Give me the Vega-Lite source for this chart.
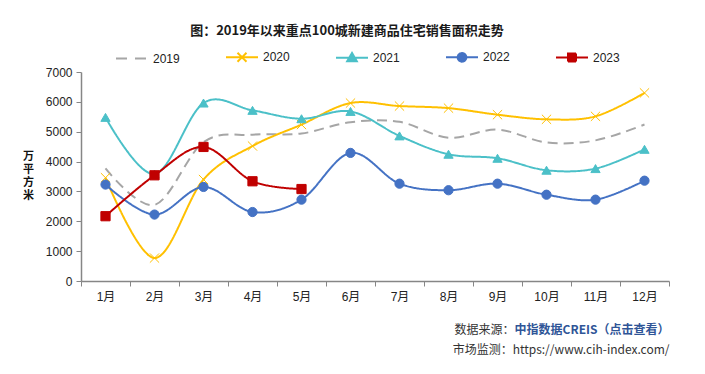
{
  "$schema": "https://vega.github.io/schema/vega-lite/v6.json",
  "autosize": "none",
  "width": 588,
  "height": 209,
  "padding": {"left": 81, "top": 72, "right": 36, "bottom": 93},
  "background": "white",
  "title": {
    "text": "图：2019年以来重点100城新建商品住宅销售面积走势",
    "font": "Noto Sans CJK SC",
    "fontSize": 13,
    "fontWeight": "bold",
    "color": "#1a1a1a",
    "anchor": "middle",
    "dx": -28,
    "offset": 2
  },
  "config": {
    "view": {"stroke": null},
    "axis": {"labelFont": "Liberation Sans, Noto Sans CJK SC", "titleFont": "Noto Sans CJK SC"}
  },
  "resolve": {"axis": {"x": "independent"}},
  "data": {
    "values": [
      {"month": "1月", "year": "2019", "value": 3770},
      {"month": "2月", "year": "2019", "value": 2550},
      {"month": "3月", "year": "2019", "value": 4650},
      {"month": "4月", "year": "2019", "value": 4900},
      {"month": "5月", "year": "2019", "value": 4940},
      {"month": "6月", "year": "2019", "value": 5320},
      {"month": "7月", "year": "2019", "value": 5330},
      {"month": "8月", "year": "2019", "value": 4800},
      {"month": "9月", "year": "2019", "value": 5070},
      {"month": "10月", "year": "2019", "value": 4640},
      {"month": "11月", "year": "2019", "value": 4710},
      {"month": "12月", "year": "2019", "value": 5240},
      {"month": "1月", "year": "2020", "value": 3460},
      {"month": "2月", "year": "2020", "value": 770},
      {"month": "3月", "year": "2020", "value": 3400},
      {"month": "4月", "year": "2020", "value": 4520},
      {"month": "5月", "year": "2020", "value": 5240},
      {"month": "6月", "year": "2020", "value": 5960},
      {"month": "7月", "year": "2020", "value": 5860},
      {"month": "8月", "year": "2020", "value": 5790},
      {"month": "9月", "year": "2020", "value": 5570},
      {"month": "10月", "year": "2020", "value": 5415},
      {"month": "11月", "year": "2020", "value": 5515},
      {"month": "12月", "year": "2020", "value": 6300},
      {"month": "1月", "year": "2021", "value": 5480},
      {"month": "2月", "year": "2021", "value": 3580},
      {"month": "3月", "year": "2021", "value": 5960},
      {"month": "4月", "year": "2021", "value": 5715},
      {"month": "5月", "year": "2021", "value": 5435},
      {"month": "6月", "year": "2021", "value": 5680},
      {"month": "7月", "year": "2021", "value": 4860},
      {"month": "8月", "year": "2021", "value": 4245},
      {"month": "9月", "year": "2021", "value": 4110},
      {"month": "10月", "year": "2021", "value": 3710},
      {"month": "11月", "year": "2021", "value": 3765},
      {"month": "12月", "year": "2021", "value": 4410},
      {"month": "1月", "year": "2022", "value": 3230},
      {"month": "2月", "year": "2022", "value": 2225},
      {"month": "3月", "year": "2022", "value": 3150},
      {"month": "4月", "year": "2022", "value": 2310},
      {"month": "5月", "year": "2022", "value": 2725},
      {"month": "6月", "year": "2022", "value": 4290},
      {"month": "7月", "year": "2022", "value": 3260},
      {"month": "8月", "year": "2022", "value": 3040},
      {"month": "9月", "year": "2022", "value": 3260},
      {"month": "10月", "year": "2022", "value": 2890},
      {"month": "11月", "year": "2022", "value": 2725},
      {"month": "12月", "year": "2022", "value": 3360},
      {"month": "1月", "year": "2023", "value": 2170},
      {"month": "2月", "year": "2023", "value": 3540},
      {"month": "3月", "year": "2023", "value": 4490},
      {"month": "4月", "year": "2023", "value": 3340},
      {"month": "5月", "year": "2023", "value": 3080}
    ]
  },
  "encoding": {
    "y": {
      "field": "value",
      "type": "quantitative",
      "scale": {"domain": [0, 7000], "nice": false},
      "axis": {
        "values": [0, 1000, 2000, 3000, 4000, 5000, 6000, 7000],
        "format": "d",
        "grid": false,
        "labelFontSize": 12,
        "labelColor": "#222",
        "labelPadding": 4,
        "tickSize": 5,
        "tickColor": "#868686",
        "domainColor": "#868686",
        "domainWidth": 1.5,
        "title": ["万", "平", "方", "米"],
        "titleAngle": 0,
        "titleFontSize": 11,
        "titleFontWeight": "bold",
        "titleColor": "#111",
        "titleLineHeight": 13,
        "titleAlign": "center",
        "titleBaseline": "middle",
        "titleX": -53,
        "titleY": 84
      }
    },
    "color": {
      "field": "year",
      "type": "nominal",
      "scale": {
        "domain": ["2019", "2020", "2021", "2022", "2023"],
        "range": ["#a6a6a6", "#ffc000", "#4bc0c8", "#4472c4", "#c00000"]
      }
    }
  },
  "layer": [
    {
      "mark": {"type": "line", "interpolate": "cardinal", "strokeWidth": 2},
      "encoding": {
        "x": {
          "field": "month",
          "type": "nominal",
          "sort": ["1月", "2月", "3月", "4月", "5月", "6月", "7月", "8月", "9月", "10月", "11月", "12月"],
          "scale": {"paddingInner": 0, "paddingOuter": 0},
          "axis": {
            "orient": "bottom",
            "labelAngle": 0,
            "labelFontSize": 12,
            "labelColor": "#222",
            "labelPadding": 5,
            "tickBand": "extent",
            "tickSize": 5,
            "tickColor": "#868686",
            "domainColor": "#868686",
            "domainWidth": 1.5,
            "title": "中指数据CREIS（点击查看）",
            "titleAnchor": "end",
            "titleAlign": "right",
            "titleFontSize": 12,
            "titleFontWeight": "bold",
            "titleColor": "#2f5597",
            "titlePadding": 22,
            "titleBaseline": "top"
          }
        },
        "strokeDash": {"condition": {"test": "datum.year == '2019'", "value": [10, 6]}, "value": [1, 0]},
        "strokeWidth": {"condition": {"test": "datum.year == '2019'", "value": 2.5}, "value": 2},
        "color": {
          "field": "year",
          "type": "nominal",
          "legend": {
            "orient": "none",
            "direction": "horizontal",
            "legendX": 34,
            "legendY": -32,
            "title": null,
            "symbolSize": 1024,
            "symbolStrokeWidth": 2,
            "labelFontSize": 12,
            "labelFont": "Liberation Sans",
            "labelColor": "#222",
            "labelOffset": 4,
            "columnPadding": 42,
            "encode": {
              "symbols": {
                "update": {
                  "shape": {"signal": "datum.value == '2019' ? 'M-1,0H1' : datum.value == '2020' ? 'M-1,0H1M-0.28,-0.28L0.28,0.28M-0.28,0.28L0.28,-0.28' : datum.value == '2021' ? 'M-1,0H1M0,-0.3L0.3,0.22H-0.3Z' : datum.value == '2022' ? 'M-1,0H1M0.27,0A0.27,0.27 0 1,1 -0.27,0A0.27,0.27 0 1,1 0.27,0Z' : 'M-1,0H1M-0.25,-0.25H0.25V0.25H-0.25Z'"},
                  "fill": {"scale": "color", "field": "value"},
                  "stroke": {"scale": "color", "field": "value"},
                  "strokeWidth": {"value": 2},
                  "strokeDash": {"signal": "datum.value == '2019' ? [11, 8] : [1, 0]"},
                  "opacity": {"value": 1}
                }
              }
            }
          }
        }
      }
    },
    {
      "transform": [{"filter": "datum.year != '2019'"}],
      "mark": {"type": "point", "filled": true, "opacity": 1, "size": 85, "strokeWidth": 1},
      "encoding": {
        "x": {
          "field": "month",
          "type": "nominal",
          "sort": ["1月", "2月", "3月", "4月", "5月", "6月", "7月", "8月", "9月", "10月", "11月", "12月"],
          "axis": {
            "orient": "bottom",
            "labels": false,
            "ticks": false,
            "domain": false,
            "title": "市场监测：https://www.cih-index.com/",
            "titleAnchor": "end",
            "titleAlign": "right",
            "titleFontSize": 12,
            "titleFontWeight": "normal",
            "titleColor": "#333",
            "titlePadding": 63,
            "titleBaseline": "top"
          }
        },
        "shape": {
          "field": "year",
          "type": "nominal",
          "scale": {
            "domain": ["2020", "2021", "2022", "2023"],
            "range": ["M-1,-1L1,1M-1,1L1,-1", "triangle-up", "circle", "square"]
          },
          "legend": null
        },
        "stroke": {"field": "year", "type": "nominal", "scale": {"domain": ["2019", "2020", "2021", "2022", "2023"], "range": ["#a6a6a6", "#ffc000", "#4bc0c8", "#4472c4", "#c00000"]}, "legend": null},
        "color": {"field": "year", "type": "nominal", "legend": null}
      }
    },
    {
      "transform": [{"filter": "datum.year == '2019'"}],
      "mark": {"type": "point", "opacity": 0},
      "encoding": {
        "x": {
          "field": "month",
          "type": "nominal",
          "sort": ["1月", "2月", "3月", "4月", "5月", "6月", "7月", "8月", "9月", "10月", "11月", "12月"],
          "axis": {
            "orient": "bottom",
            "labels": false,
            "ticks": false,
            "domain": false,
            "title": "数据来源：",
            "titleX": 433,
            "titleAlign": "right",
            "titleFontSize": 12,
            "titleFontWeight": "normal",
            "titleColor": "#333",
            "titlePadding": 43,
            "titleBaseline": "top"
          }
        },
        "color": {"field": "year", "type": "nominal", "legend": null}
      }
    }
  ]
}
